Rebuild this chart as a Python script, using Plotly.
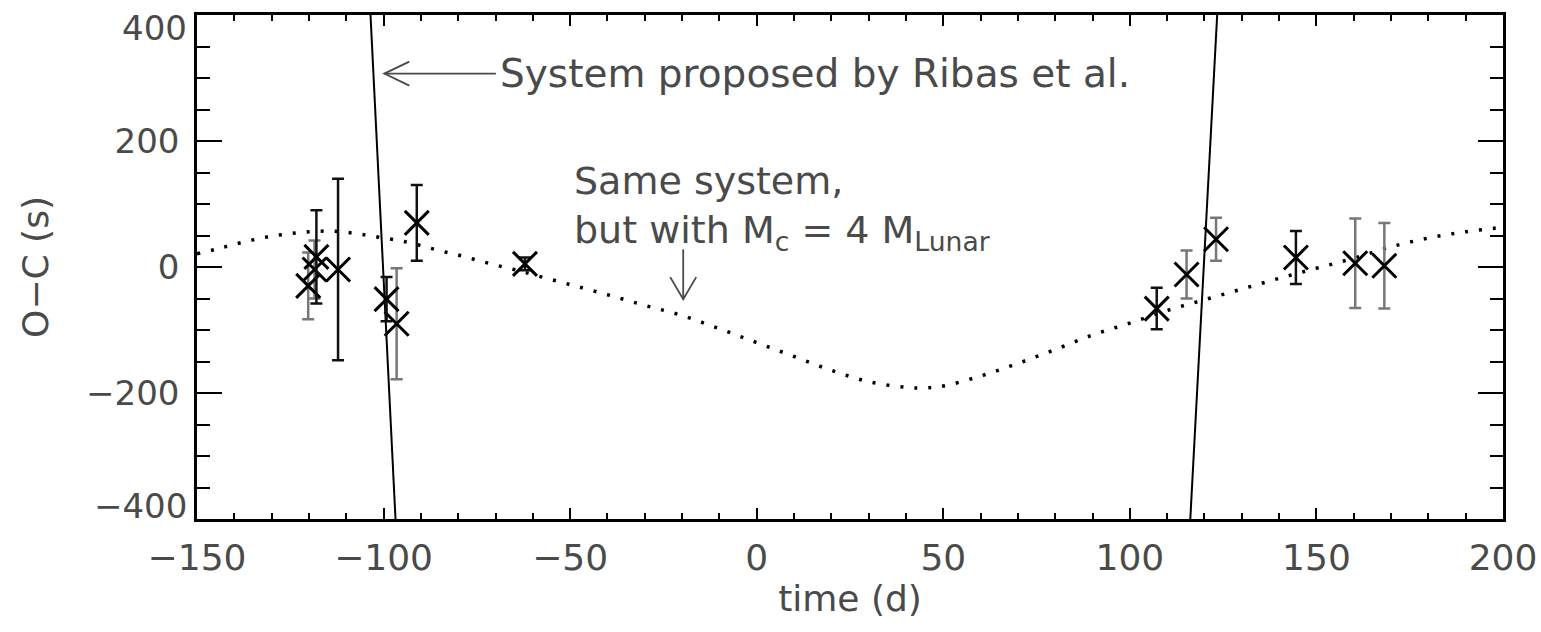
import plotly.graph_objects as go

# ---- data ----
# O-C timing residuals (two groups: black and grey error bars)
t_black = [-118.0, -112.2, -99.2, -91.1, -62.1, 107.2, 144.5]
oc_black = [16, -4, -51, 70, 5, -66, 15]
err_black = [74, 144, 35, 60, 10, 33, 42]

t_grey = [-120.2, -118.5, -96.5, 115.2, 123.1, 160.4, 168.2]
oc_grey = [-30, -4, -90, -12, 44, 6, 2]
err_grey = [53, 46, 88, 38, 34, 71, 68]

# dotted model: same system, but with Mc = 4 M_Lunar
model_t = [-150, -145, -140, -135, -130, -125, -120, -115, -110, -105, -100, -95,
           -90, -85, -80, -75, -70, -65, -60, -50, -40, -30, -20, -10, 0, 10, 20,
           30, 40, 45, 50, 60, 70, 80, 90, 100, 110, 120, 130, 140, 150, 160, 170,
           180, 190, 200]
model_oc = [21, 28, 36, 43, 49, 53, 56, 57, 55, 51, 46, 41,
            34, 26, 19, 11, 3, -4, -12, -28, -44, -61, -77, -98, -120, -142, -164,
            -182, -191, -192, -189, -173, -153, -131, -108, -89, -69, -52, -35, -18, -2, 14, 32,
            46, 56, 63]

# steep segments of the system proposed by Ribas et al. (clipped)
ribas1_t = [-103.5, -96.8]
ribas1_oc = [400, -400]
ribas2_t = [116.2, 123.4]
ribas2_oc = [-400, 400]

x_ticks = [-150, -100, -50, 0, 50, 100, 150, 200]
y_ticks = [-400, -200, 0, 200, 400]
y_labels = ["−400", "−200", "0", "200", "400"]

# annotation anchors
ribas_label = {"text": "System proposed by Ribas et al.", "x": -69.3, "y": 307}
ribas_arrow = {"tip_x": -99.8, "tip_y": 307, "tail_x": -69.9}
model_label = {"text": "Same system,<br>but with M<sub>c</sub> = 4 M<sub>Lunar</sub>", "x": -49.6, "y": 175}
model_arrow = {"tip_x": -19.7, "tip_y": -51, "tail_y": 28}

FONT = "DejaVu Sans"
TXT = "#4a4a4a"

W, H = 1541, 632
M = dict(l=197, r=38, t=15, b=113)
X_RANGE = [-150, 200]
Y_RANGE = [-400, 400]
ux = (X_RANGE[1] - X_RANGE[0]) / (W - M["l"] - M["r"])   # data units per pixel
uy = (Y_RANGE[1] - Y_RANGE[0]) / (H - M["t"] - M["b"])

fig = go.Figure()

fig.add_trace(go.Scatter(x=model_t, y=model_oc, mode="lines", line_shape="spline",
                         line=dict(color="black", width=3.5, dash="3px,11px"),
                         showlegend=False, hoverinfo="skip"))
fig.add_trace(go.Scatter(x=ribas1_t, y=ribas1_oc, mode="lines",
                         line=dict(color="black", width=2), showlegend=False))
fig.add_trace(go.Scatter(x=ribas2_t, y=ribas2_oc, mode="lines",
                         line=dict(color="black", width=2), showlegend=False))

fig.add_trace(go.Scatter(x=t_grey, y=oc_grey, mode="markers",
                         marker=dict(symbol="x-thin", size=24, line=dict(color="black", width=3)),
                         error_y=dict(type="data", array=err_grey, color="#777777",
                                      thickness=2.5, width=6),
                         showlegend=False))
fig.add_trace(go.Scatter(x=t_black, y=oc_black, mode="markers",
                         marker=dict(symbol="x-thin", size=24, line=dict(color="black", width=3)),
                         error_y=dict(type="data", array=err_black, color="#111111",
                                      thickness=2.5, width=6),
                         showlegend=False))

annots = [
    dict(x=ribas_label["x"], y=ribas_label["y"], text=ribas_label["text"],
         showarrow=False, xanchor="left", yanchor="middle",
         font=dict(family=FONT, size=39, color=TXT)),
    dict(x=model_label["x"], y=model_label["y"], text=model_label["text"],
         showarrow=False, xanchor="left", yanchor="top", align="left",
         font=dict(family=FONT, size=38, color=TXT)),
]
# end labels of the y axis sit slightly inside the frame (as in the reference)
for val, lab, shift in ((y_ticks[-1], y_labels[-1], -13), (y_ticks[0], y_labels[0], 13)):
    annots.append(dict(x=0, xref="paper", y=val, yref="y", text=lab, showarrow=False,
                       xanchor="right", yanchor="middle", xshift=-8, yshift=shift,
                       font=dict(family=FONT, size=34, color=TXT)))

arrow_line = dict(color=TXT, width=1.8)
rx, ry = ribas_arrow["tip_x"], ribas_arrow["tip_y"]
mx, my = model_arrow["tip_x"], model_arrow["tip_y"]
shapes = [
    dict(type="line", xref="x", yref="y", x0=ribas_arrow["tail_x"], y0=ry, x1=rx, y1=ry,
         line=arrow_line),
    dict(type="path", xref="x", yref="y",
         path=f"M {rx + 25 * ux},{ry + 12 * uy} L {rx},{ry} L {rx + 25 * ux},{ry - 12 * uy}",
         line=arrow_line),
    dict(type="line", xref="x", yref="y", x0=mx, y0=model_arrow["tail_y"], x1=mx, y1=my,
         line=arrow_line),
    dict(type="path", xref="x", yref="y",
         path=f"M {mx - 13 * ux},{my + 22 * uy} L {mx},{my} L {mx + 13 * ux},{my + 22 * uy}",
         line=arrow_line),
]

fig.update_layout(
    width=W, height=H,
    margin=M,
    plot_bgcolor="white", paper_bgcolor="white",
    annotations=annots, shapes=shapes,
    font=dict(family=FONT, color=TXT),
    xaxis=dict(range=X_RANGE, tickvals=x_ticks, ticks="inside", ticklen=11, tickwidth=2,
               tickcolor="black", showline=True, linecolor="black", linewidth=2.5,
               mirror="allticks", showgrid=False, zeroline=False, automargin=False,
               tickfont=dict(family=FONT, size=36, color=TXT), ticklabelstandoff=5,
               minor=dict(dtick=10, ticks="inside", ticklen=6, tickwidth=2, tickcolor="black",
                          showgrid=False),
               title=dict(text="time (d)", font=dict(family=FONT, size=36, color=TXT), standoff=2)),
    yaxis=dict(range=Y_RANGE, tickvals=y_ticks[1:-1], ticktext=y_labels[1:-1],
               ticks="inside", ticklen=25, tickwidth=2,
               tickcolor="black", showline=True, linecolor="black", linewidth=2.5,
               mirror="allticks", showgrid=False, zeroline=False, automargin=False,
               tickfont=dict(family=FONT, size=34, color=TXT), ticklabelstandoff=8,
               minor=dict(dtick=50, ticks="inside", ticklen=13, tickwidth=2, tickcolor="black",
                          showgrid=False),
               title=dict(text="O−C (s)", font=dict(family=FONT, size=36, color=TXT), standoff=27)),
)

fig.write_html("out.html")
